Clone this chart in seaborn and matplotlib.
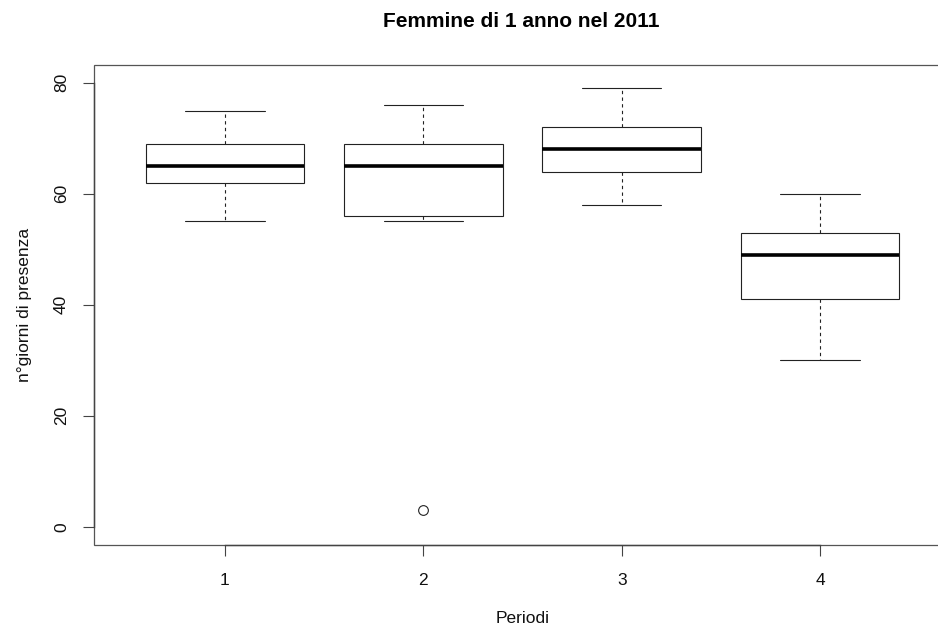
# Boxplot presenze femmine di 1 anno, 2011 (stile R base)
import numpy as np
import pandas as pd
import matplotlib
matplotlib.use("Agg")
import matplotlib.pyplot as plt
import seaborn as sns

# SECTION - DATI
# valori scelti in modo che min, Q1, mediana, Q3, max e outlier coincidano col grafico
periodo_1 = [55, 62, 65, 69, 75]
periodo_2 = [3, 55, 56, 60, 65, 67, 69, 72, 76]
periodo_3 = [58, 64, 68, 72, 79]
periodo_4 = [30, 41, 49, 53, 60]
periodi = ["1", "2", "3", "4"]
y_ticks = [0, 20, 40, 60, 80]

df = pd.DataFrame({
    "periodo": np.repeat(periodi, [len(periodo_1), len(periodo_2), len(periodo_3), len(periodo_4)]),
    "giorni": periodo_1 + periodo_2 + periodo_3 + periodo_4,
})
# !SECTION

# SECTION - STILE
sns.set_style("white")
plt.rcParams["font.family"] = ["Liberation Sans", "DejaVu Sans"]
plt.rcParams["text.color"] = "black"
plt.rcParams["axes.labelcolor"] = "black"
line_col = "#222222"
# !SECTION

fig = plt.figure(figsize=(9.38, 6.29), dpi=100)
ax = fig.add_axes([94 / 938, 1 - 545 / 629, (951 - 94) / 938, (545 - 65) / 629])

sns.boxplot(
    data=df, x="periodo", y="giorni", order=periodi, ax=ax,
    color="white", linecolor=line_col, linewidth=0.8, width=0.8,
    whis=1.5, fliersize=7,
    medianprops=dict(linewidth=2.6, color="black"),
    whiskerprops=dict(linestyle=(0, (3, 3))),
    flierprops=dict(marker="o", markerfacecolor="none", markeredgewidth=0.8),
)

ax.set_xlim(-0.66, 3.66)
ax.set_ylim(-3.3, 83.2)
ax.set_yticks(y_ticks)
ax.set_yticklabels([str(v) for v in y_ticks])

# cornice come bty="o" + assi che vanno dal primo all'ultimo tick
ax.patch.set_edgecolor("#555555")
ax.patch.set_linewidth(0.9)
for side in ["top", "right"]:
    ax.spines[side].set_visible(False)
ax.spines["left"].set_bounds(0, 80)
ax.spines["bottom"].set_bounds(0, 3)
for side in ["left", "bottom"]:
    ax.spines[side].set_color("#444444")
    ax.spines[side].set_linewidth(1.0)

ax.tick_params(axis="both", direction="out", length=8, width=0.8, color="#444444",
               labelsize=12.5, labelcolor="#111111", bottom=True, left=True)
ax.tick_params(axis="x", pad=12)
ax.tick_params(axis="y", pad=10)
for lab in ax.get_yticklabels():
    lab.set_rotation(90)
    lab.set_va("center")

ax.set_xlabel("Periodi", fontsize=12.5, labelpad=17, color="#111111")
ax.set_ylabel("n°giorni di presenza", fontsize=12.5, labelpad=16, color="#111111")
fig.suptitle("Femmine di 1 anno nel 2011", fontsize=15, fontweight="bold", color="black",
             x=(377 + 666) / 2 / 938, y=1 - 12 / 629, va="top")

fig.savefig("out.png", dpi=100)
